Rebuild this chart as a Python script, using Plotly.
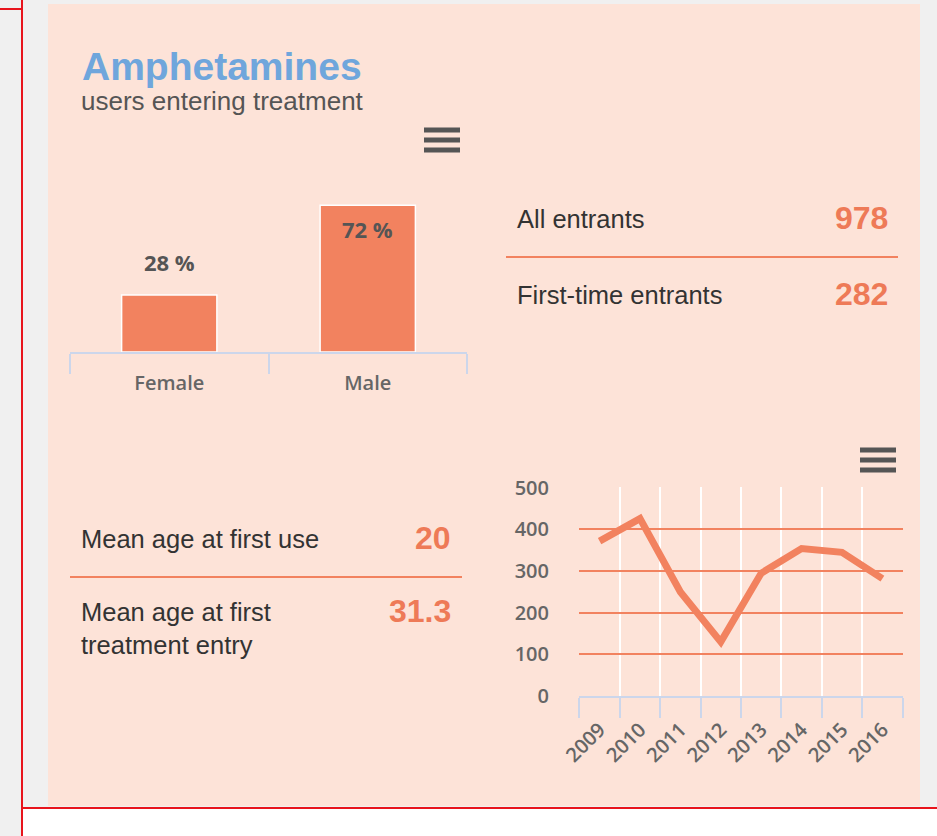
import plotly.graph_objects as go

W, H = 937, 836

# --- datos ---
sexos = ["Female", "Male"]
porcentajes = [28, 72]
etiquetas_pct = ["28 %", "72 %"]

anios = ["2009", "2010", "2011", "2012", "2013", "2014", "2015", "2016"]
entrantes = [372, 426, 250, 130, 295, 354, 345, 282]

cifras_etiquetas = ["All entrants", "First-time entrants"]
cifras_valores = ["978", "282"]
edades_etiquetas = ["Mean age at first use", "Mean age at first<br>treatment entry"]
edades_valores = ["20", "31.3"]

titulo = "Amphetamines"
subtitulo = "users entering treatment"

NARANJA = "#f2825f"
NUM = "#ee7a57"
AZUL = "#6fa6dc"
TEXTO = "#333333"
GRIS = "#666666"
EJE = "#ccd6eb"
FONDO = "#fde3d8"
ARIAL = "Arial, Liberation Sans, sans-serif"
EJES_FONT = "Open Sans, sans-serif"


def px(x):
    return x / W


def py(y):
    return 1 - y / H


def nota(x, y, texto, size, color, xanchor="left", yanchor="middle", **kw):
    return dict(x=px(x), y=py(y), xref="paper", yref="paper", text=texto,
                xanchor=xanchor, yanchor=yanchor, showarrow=False,
                font=dict(family=ARIAL, size=size, color=color), **kw)


fig = go.Figure()

# --- barras por sexo ---
fig.add_trace(go.Bar(
    x=sexos, y=porcentajes,
    marker=dict(color=NARANJA, line=dict(color="white", width=1.5)),
    width=0.48, xaxis="x", yaxis="y", showlegend=False, hoverinfo="skip",
))

# --- serie temporal ---
fig.add_trace(go.Scatter(
    x=anios, y=entrantes, mode="lines",
    line=dict(color=NARANJA, width=7),
    xaxis="x2", yaxis="y2", showlegend=False, hoverinfo="skip",
))

annotations = [
    nota(80, 66, f"<b>{titulo}</b>", 39, AZUL),
    nota(79, 101, subtitulo, 26, "#555555"),
    # etiquetas de las barras
    dict(x=sexos[0], y=porcentajes[0], xref="x", yref="y", text=f"<b>{etiquetas_pct[0]}</b>",
         yanchor="bottom", yshift=16, showarrow=False,
         font=dict(family=EJES_FONT, size=22, color="#555555")),
    dict(x=sexos[1], y=porcentajes[1], xref="x", yref="y", text=f"<b>{etiquetas_pct[1]}</b>",
         yanchor="top", yshift=-7, showarrow=False,
         font=dict(family=EJES_FONT, size=22, color="#555555")),
]

for i, (lab, val) in enumerate(zip(cifras_etiquetas, cifras_valores)):
    yy = 219 + i * 76
    annotations.append(nota(515, yy, lab, 25.5, TEXTO))
    annotations.append(nota(890, yy - 1, f"<b>{val}</b>", 32, NUM, xanchor="right"))

annotations.append(nota(79, 539, edades_etiquetas[0], 25.5, TEXTO))
annotations.append(nota(453, 538, f"<b>{edades_valores[0]}</b>", 32, NUM, xanchor="right"))
annotations.append(nota(79, 628, edades_etiquetas[1], 25.5, TEXTO, align="left"))
annotations.append(nota(453, 611, f"<b>{edades_valores[1]}</b>", 32, NUM, xanchor="right"))

shapes = [
    # fondo del panel
    dict(type="rect", xref="paper", yref="paper", x0=px(48), x1=px(920), y0=py(806), y1=py(4),
         fillcolor=FONDO, line=dict(width=0), layer="below"),
    # zona blanca inferior y marco rojo
    dict(type="rect", xref="paper", yref="paper", x0=px(22), x1=1, y0=0, y1=py(808),
         fillcolor="white", line=dict(width=0), layer="below"),
    dict(type="line", xref="paper", yref="paper", x0=px(22), x1=px(22), y0=0, y1=1,
         line=dict(color="#e8141c", width=2)),
    dict(type="line", xref="paper", yref="paper", x0=px(22), x1=1, y0=py(808), y1=py(808),
         line=dict(color="#e8141c", width=2)),
    dict(type="line", xref="paper", yref="paper", x0=0, x1=px(22), y0=py(9), y1=py(9),
         line=dict(color="#e8141c", width=2)),
    # separadores
    dict(type="line", xref="paper", yref="paper", x0=px(506), x1=px(898), y0=py(257), y1=py(257),
         line=dict(color=NARANJA, width=2)),
    dict(type="line", xref="paper", yref="paper", x0=px(70), x1=px(462), y0=py(577), y1=py(577),
         line=dict(color=NARANJA, width=2)),
]

# iconos de menú
for cx0, cy in [(424, 140), (860, 460)]:
    for dy in (-10, 0, 10):
        shapes.append(dict(type="rect", xref="paper", yref="paper",
                           x0=px(cx0), x1=px(cx0 + 36), y0=py(cy + dy + 2.5), y1=py(cy + dy - 2.5),
                           fillcolor="#555555", line=dict(width=0)))

fig.update_layout(
    width=W, height=H,
    margin=dict(l=0, r=0, t=0, b=0, autoexpand=False),
    paper_bgcolor="#f0f0f0",
    plot_bgcolor="rgba(0,0,0,0)",
    annotations=annotations,
    shapes=shapes,
    xaxis=dict(domain=[px(70), px(467)], anchor="y", range=[-0.5, 1.5], automargin=False,
               tickson="boundaries", ticks="outside", ticklen=20, tickwidth=2, tickcolor=EJE,
               showline=True, linecolor=EJE, linewidth=2, showgrid=False, ticklabelstandoff=12,
               tickfont=dict(family=EJES_FONT, size=20, color=GRIS, weight=600), fixedrange=True),
    yaxis=dict(domain=[py(352), py(189)], anchor="x", range=[0, 80], visible=False,
               automargin=False, fixedrange=True),
    xaxis2=dict(domain=[px(579), px(903)], anchor="y2", range=[-0.51, 7.51], automargin=False,
                tickson="boundaries", ticks="outside", ticklen=20, tickwidth=2, tickcolor=EJE,
                showline=True, linecolor=EJE, linewidth=2, ticklabelstandoff=12,
                showgrid=True, gridcolor="white", gridwidth=2,
                tickangle=-45, tickfont=dict(family=EJES_FONT, size=20, color=GRIS, weight=600),
                fixedrange=True),
    yaxis2=dict(domain=[py(696), py(487)], anchor="x2", range=[0, 502], automargin=False,
                tickvals=[0, 100, 200, 300, 400, 500],
                showgrid=True, gridcolor=NARANJA, gridwidth=2, zeroline=False,
                ticklabelstandoff=29,
                tickfont=dict(family=EJES_FONT, size=20, color=GRIS, weight=600),
                fixedrange=True),
)

fig.write_html("out.html", config={"displayModeBar": False},
               post_script="document.body.style.margin='0';")
